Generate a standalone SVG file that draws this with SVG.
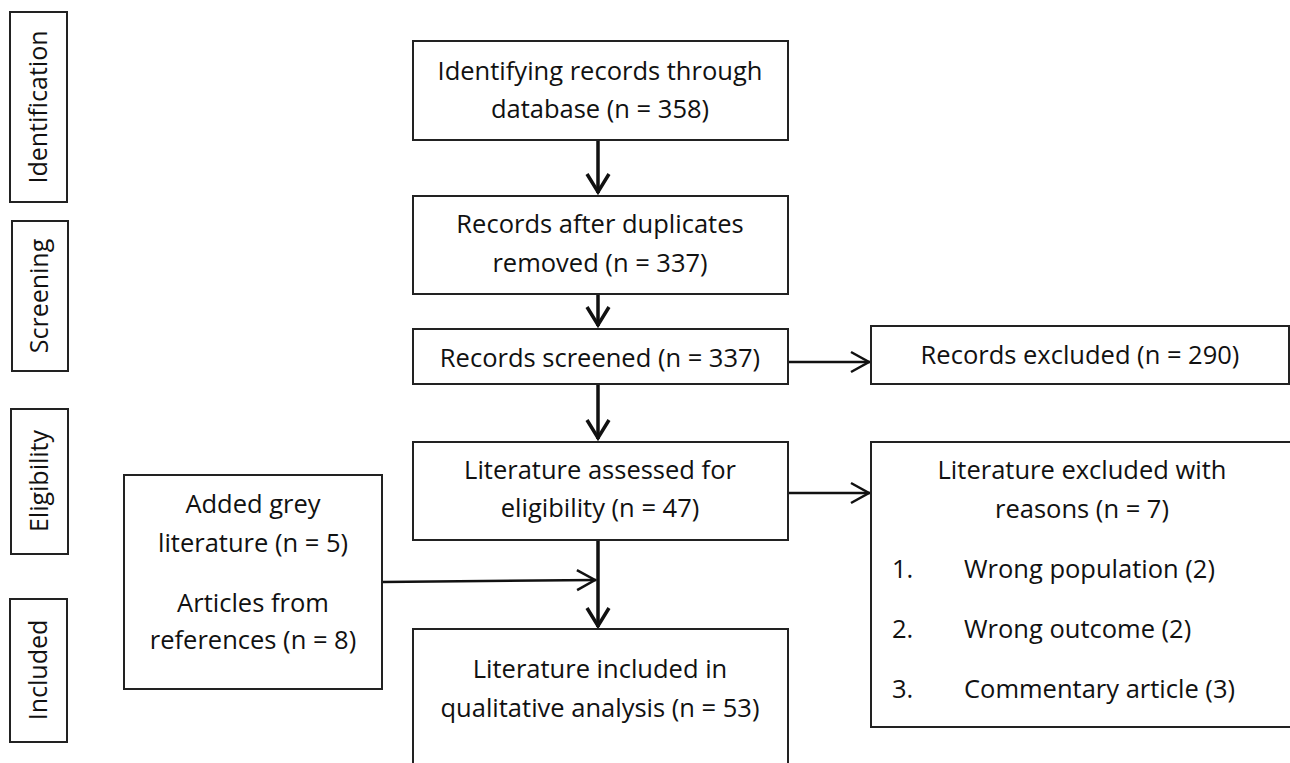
<svg xmlns="http://www.w3.org/2000/svg" width="1290" height="763" viewBox="0 0 1290 763">
<style>
.box{fill:#fff;stroke:#222;stroke-width:2}
.t{font-family:"Open Sans",Lato,"Liberation Sans",sans-serif;font-size:25.5px;fill:#111}
.s{font-size:25px}
.c{text-anchor:middle}
.thick{stroke:#111;stroke-width:3.5;fill:none}
.thin{stroke:#111;stroke-width:2.5;fill:none}
</style>
<defs>
<marker id="ah" viewBox="0 0 20 24" refX="20" refY="12" markerWidth="20" markerHeight="24" markerUnits="userSpaceOnUse" orient="auto" overflow="visible">
<path d="M1,1 L19,12 L1,23" fill="none" stroke="#111" stroke-width="3.5"/>
</marker>
<marker id="ahs" viewBox="0 0 20 22" refX="20" refY="11" markerWidth="20" markerHeight="22" markerUnits="userSpaceOnUse" orient="auto" overflow="visible">
<path d="M1,1 L19,11 L1,21" fill="none" stroke="#111" stroke-width="2.5"/>
</marker>
</defs>
<rect width="1290" height="763" fill="#fff"/>

<g id="stage-identification">
<rect class="box" x="10" y="12" width="57" height="190"/>
<text class="t s c" transform="translate(47,107) rotate(-90)">Identification</text>
</g>
<g id="stage-screening">
<rect class="box" x="12" y="221" width="56" height="150"/>
<text class="t s c" transform="translate(48,296) rotate(-90)">Screening</text>
</g>
<g id="stage-eligibility">
<rect class="box" x="11" y="409" width="57" height="145"/>
<text class="t s c" transform="translate(48,481) rotate(-90)">Eligibility</text>
</g>
<g id="stage-included">
<rect class="box" x="10" y="599" width="57" height="143"/>
<text class="t s c" transform="translate(47,670) rotate(-90)">Included</text>
</g>

<g id="connectors">
<line class="thick" x1="598" y1="140" x2="598" y2="193" marker-end="url(#ah)"/>
<line class="thick" x1="598" y1="294" x2="598" y2="326" marker-end="url(#ah)"/>
<line class="thick" x1="598" y1="384" x2="598" y2="439" marker-end="url(#ah)"/>
<line class="thick" x1="598" y1="540" x2="598" y2="627" marker-end="url(#ah)"/>
<line class="thin" x1="788" y1="362" x2="870" y2="362" marker-end="url(#ahs)"/>
<line class="thin" x1="788" y1="493" x2="870" y2="493" marker-end="url(#ahs)"/>
<line class="thin" x1="382" y1="582" x2="596" y2="580" marker-end="url(#ahs)"/>
</g>

<g id="node-identifying">
<rect class="box" x="413" y="41" width="375" height="99"/>
<text class="t c" x="600" y="80">Identifying records through</text>
<text class="t c" x="600" y="118">database (n = 358)</text>
</g>
<g id="node-duplicates">
<rect class="box" x="413" y="196" width="375" height="98"/>
<text class="t c" x="600" y="233">Records after duplicates</text>
<text class="t c" x="600" y="272">removed (n = 337)</text>
</g>
<g id="node-screened">
<rect class="box" x="413" y="329" width="375" height="55"/>
<text class="t c" x="600" y="367">Records screened (n = 337)</text>
</g>
<g id="node-excluded">
<rect class="box" x="871" y="326" width="418" height="58"/>
<text class="t c" x="1080" y="364">Records excluded (n = 290)</text>
</g>
<g id="node-assessed">
<rect class="box" x="413" y="442" width="375" height="98"/>
<text class="t c" x="600" y="479">Literature assessed for</text>
<text class="t c" x="600" y="517">eligibility (n = 47)</text>
</g>
<g id="node-excluded-reasons">
<rect class="box" x="871" y="442" width="440" height="285"/>
<text class="t c" x="1082" y="479">Literature excluded with</text>
<text class="t c" x="1082" y="518">reasons (n = 7)</text>
<text class="t" x="892" y="578">1.</text>
<text class="t" x="964" y="578">Wrong population (2)</text>
<text class="t" x="892" y="638">2.</text>
<text class="t" x="964" y="638">Wrong outcome (2)</text>
<text class="t" x="892" y="698">3.</text>
<text class="t" x="964" y="698">Commentary article (3)</text>
</g>
<g id="node-added">
<rect class="box" x="124" y="475" width="258" height="214"/>
<text class="t c" x="253" y="513">Added grey</text>
<text class="t c" x="253" y="552">literature (n = 5)</text>
<text class="t c" x="253" y="612">Articles from</text>
<text class="t c" x="253" y="649">references (n = 8)</text>
</g>
<g id="node-included">
<rect class="box" x="413" y="629" width="375" height="200"/>
<text class="t c" x="600" y="678">Literature included in</text>
<text class="t c" x="600" y="717">qualitative analysis (n = 53)</text>
</g>
</svg>
